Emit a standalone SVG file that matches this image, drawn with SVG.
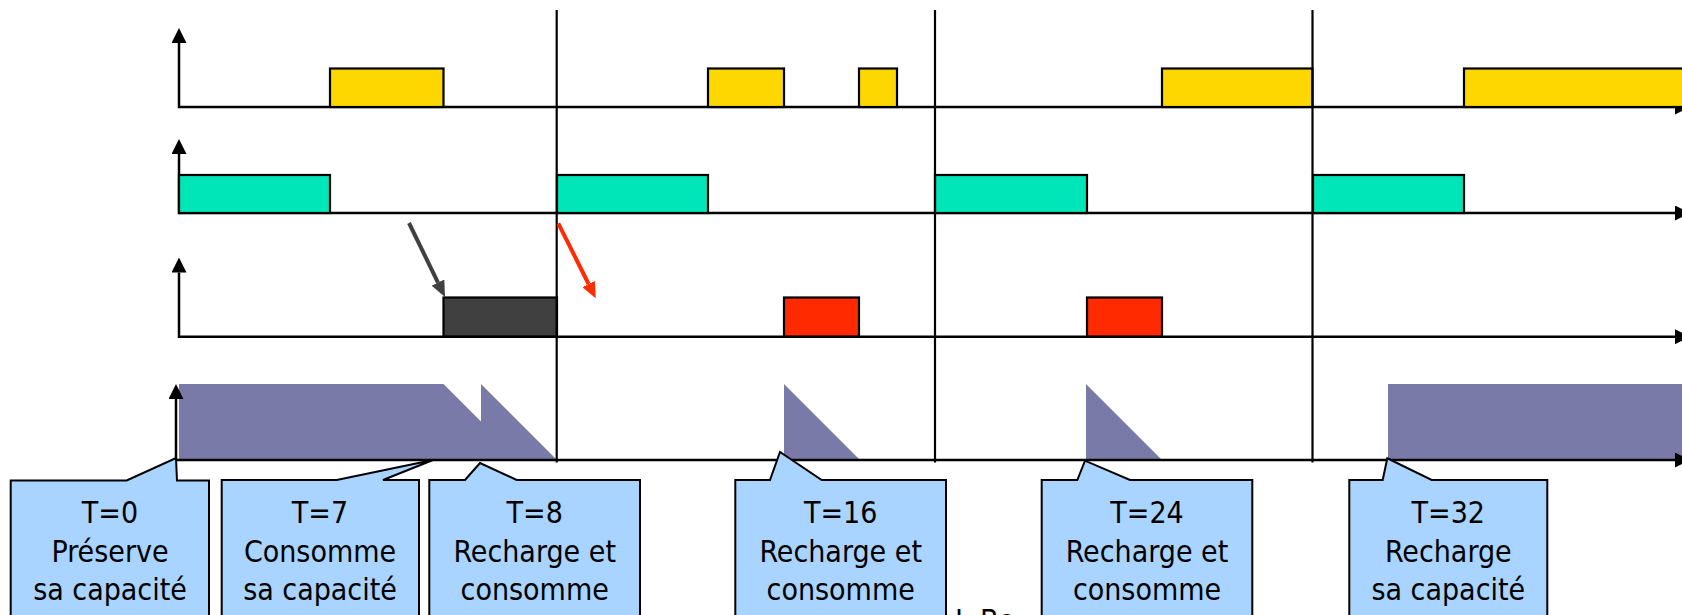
<svg xmlns="http://www.w3.org/2000/svg" width="1682" height="615" viewBox="0 0 1682 615">
  <style>
    .axis { fill: none; stroke: #000; stroke-width: 2.5; marker-start: url(#axisTipStart); marker-end: url(#axisTip); }
    .tick { stroke: #000; stroke-width: 2.2; }
    .job { stroke: #000; stroke-width: 2.2; }
    .t1 { fill: #FFD700; }
    .t2 { fill: #00E6B8; }
    .srv { fill: #404040; }
    .ap { fill: #FF2A00; }
    .cap { fill: #7A7AA8; }
    .callout { fill: #A9D4FF; stroke: #000; stroke-width: 2; stroke-linejoin: miter; }
    .lbl { font-family: "DejaVu Sans Condensed", "DejaVu Sans", sans-serif; font-stretch: condensed; font-size: 30px; fill: #000; text-anchor: middle; }
    .foot { font-family: "DejaVu Sans Condensed", "DejaVu Sans", sans-serif; font-stretch: condensed; font-size: 30px; fill: #000; }
  </style>
  <defs>
    <marker id="axisTip" viewBox="0 0 15 15" refX="0" refY="7.5" markerWidth="15" markerHeight="15" markerUnits="userSpaceOnUse" orient="auto">
      <path d="M0,0 L15,7.5 L0,15 z" fill="#000"/>
    </marker>
    <marker id="axisTipStart" viewBox="0 0 15 15" refX="0" refY="7.5" markerWidth="15" markerHeight="15" markerUnits="userSpaceOnUse" orient="auto-start-reverse">
      <path d="M0,0 L15,7.5 L0,15 z" fill="#000"/>
    </marker>
    <marker id="headDark" viewBox="0 0 16 14" refX="0" refY="7" markerWidth="16" markerHeight="14" markerUnits="userSpaceOnUse" orient="auto">
      <path d="M0,0 L16,7 L0,14 z" fill="#404040"/>
    </marker>
    <marker id="headRed" viewBox="0 0 16 14" refX="0" refY="7" markerWidth="16" markerHeight="14" markerUnits="userSpaceOnUse" orient="auto">
      <path d="M0,0 L16,7 L0,14 z" fill="#FF2A00"/>
    </marker>
  </defs>

  <rect width="1682" height="615" fill="#fff"/>

  <!-- server capacity profile -->
  <g id="capacity">
    <polygon class="cap" points="179,384 443.5,384 481,421.5 481,384 557,460 179,460"/>
    <polygon class="cap" points="784,384 784,460 860,460"/>
    <polygon class="cap" points="1086,384 1086,460 1162,460"/>
    <rect class="cap" x="1388" y="384" width="302" height="76"/>
  </g>

  <!-- time axes -->
  <g id="axes">
    <polyline class="axis" points="179,43 179,107 1675,107"/>
    <polyline class="axis" points="179,154 179,213 1675,213"/>
    <polyline class="axis" points="179,272.5 179,336.7 1675,336.7"/>
    <polyline class="axis" points="176,399 176,460 1675,460"/>
  </g>

  <!-- periodic task 1 -->
  <g id="task1">
    <rect class="job t1" x="330" y="68.5" width="113.5" height="38.5"/>
    <rect class="job t1" x="708" y="68.5" width="76" height="38.5"/>
    <rect class="job t1" x="859" y="68.5" width="38" height="38.5"/>
    <rect class="job t1" x="1162" y="68.5" width="150.5" height="38.5"/>
    <rect class="job t1" x="1464" y="68.5" width="230" height="38.5"/>
  </g>

  <!-- periodic task 2 -->
  <g id="task2">
    <rect class="job t2" x="179" y="175" width="151" height="38"/>
    <rect class="job t2" x="557" y="175" width="151" height="38"/>
    <rect class="job t2" x="935" y="175" width="152" height="38"/>
    <rect class="job t2" x="1313" y="175" width="151" height="38"/>
  </g>

  <!-- aperiodic requests -->
  <g id="aperiodic">
    <rect class="job srv" x="443.5" y="297.5" width="113.5" height="39"/>
    <rect class="job ap" x="784" y="297.5" width="75" height="39"/>
    <rect class="job ap" x="1087" y="297.5" width="75" height="39"/>
  </g>

  <!-- period boundaries -->
  <g id="periods">
    <line class="tick" x1="556.7" y1="10" x2="556.7" y2="462.5"/>
    <line class="tick" x1="935" y1="10" x2="935" y2="462.5"/>
    <line class="tick" x1="1312.5" y1="10" x2="1312.5" y2="462.5"/>
  </g>

  <!-- request arrivals -->
  <g id="connectors">
    <line x1="409" y1="223" x2="438" y2="282.6" stroke="#404040" stroke-width="4" marker-end="url(#headDark)"/>
    <line x1="558.3" y1="223.3" x2="588.6" y2="284" stroke="#FF2A00" stroke-width="4" marker-end="url(#headRed)"/>
  </g>

  <!-- footer line, mostly below the page edge -->
  <text class="foot" x="955" y="631">J. Bo</text>

  <g id="note-t0">
    <path class="callout" d="M10.7,480.5 L126.7,480.5 L176,458 L177,480.5 L209,480.5 L209,620 L10.7,620 Z"/>
    <text class="lbl" x="110" y="523">T=0</text>
    <text class="lbl" x="110" y="561.5">Préserve</text>
    <text class="lbl" x="110" y="600">sa capacité</text>
  </g>

  <g id="note-t7">
    <path class="callout" d="M221.7,480 L336.7,480 L433,460 L383,480 L419,480 L419,620 L221.7,620 Z"/>
    <text class="lbl" x="320" y="523">T=7</text>
    <text class="lbl" x="320" y="561.5">Consomme</text>
    <text class="lbl" x="320" y="600">sa capacité</text>
  </g>

  <g id="note-t8">
    <path class="callout" d="M429.3,480 L465,480 L480,463 L516.7,480 L640,480 L640,620 L429.3,620 Z"/>
    <text class="lbl" x="534.7" y="523">T=8</text>
    <text class="lbl" x="534.7" y="561.5">Recharge et</text>
    <text class="lbl" x="534.7" y="600">consomme</text>
  </g>

  <g id="note-t16">
    <path class="callout" d="M735.3,480 L770,480 L780,452 L821.7,480 L946,480 L946,620 L735.3,620 Z"/>
    <text class="lbl" x="840.7" y="523">T=16</text>
    <text class="lbl" x="840.7" y="561.5">Recharge et</text>
    <text class="lbl" x="840.7" y="600">consomme</text>
  </g>

  <g id="note-t24">
    <path class="callout" d="M1041.7,480 L1077.3,480 L1085,460.7 L1130,480 L1252.3,480 L1252.3,620 L1041.7,620 Z"/>
    <text class="lbl" x="1147" y="523">T=24</text>
    <text class="lbl" x="1147" y="561.5">Recharge et</text>
    <text class="lbl" x="1147" y="600">consomme</text>
  </g>

  <g id="note-t32">
    <path class="callout" d="M1349.3,480 L1382.7,480 L1387.3,458.3 L1431.7,480 L1547.3,480 L1547.3,620 L1349.3,620 Z"/>
    <text class="lbl" x="1448.3" y="523">T=32</text>
    <text class="lbl" x="1448.3" y="561.5">Recharge</text>
    <text class="lbl" x="1448.3" y="600">sa capacité</text>
  </g>
</svg>
